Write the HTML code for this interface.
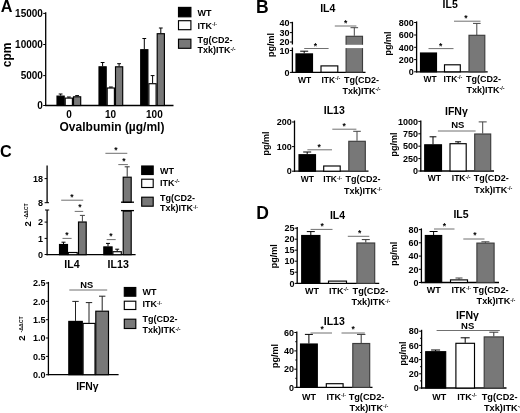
<!DOCTYPE html>
<html><head><meta charset="utf-8"><title>Figure</title>
<style>
html,body{margin:0;padding:0;background:#fff;}
svg{display:block;}
text{font-family:"Liberation Sans",Arial,sans-serif;font-weight:bold;fill:#000;}
</style></head><body>
<svg width="520" height="413" viewBox="0 0 520 413">
<rect width="520" height="413" fill="#fff"/>
<text x="6.6" y="12.3" font-size="16.2" text-anchor="middle">A</text>
<line x1="45.7" y1="12.2" x2="45.7" y2="106.1" stroke="#000" stroke-width="1.3"/>
<line x1="45.1" y1="105.5" x2="173.5" y2="105.5" stroke="#000" stroke-width="1.3"/>
<line x1="43.2" y1="13.4" x2="45.7" y2="13.4" stroke="#000" stroke-width="1"/>
<text x="42.9" y="17.0" font-size="10" text-anchor="end">15000</text>
<line x1="43.2" y1="44.5" x2="45.7" y2="44.5" stroke="#000" stroke-width="1"/>
<text x="42.9" y="48.1" font-size="10" text-anchor="end">10000</text>
<line x1="43.2" y1="75.6" x2="45.7" y2="75.6" stroke="#000" stroke-width="1"/>
<text x="42.9" y="79.2" font-size="10" text-anchor="end">5000</text>
<line x1="43.2" y1="105.5" x2="45.7" y2="105.5" stroke="#000" stroke-width="1"/>
<text x="42.9" y="109.1" font-size="10" text-anchor="end">0</text>
<text transform="translate(10.5,54.8) rotate(-90)" font-size="12" text-anchor="middle">cpm</text>
<line x1="60.6" y1="94.0" x2="60.6" y2="95.6" stroke="#000" stroke-width="1"/>
<line x1="58.7" y1="94.0" x2="62.5" y2="94.0" stroke="#000" stroke-width="1"/>
<rect x="57.0" y="96.1" width="7.2" height="9.4" fill="#000" stroke="#000" stroke-width="1.15"/>
<line x1="68.9" y1="97.0" x2="68.9" y2="97.6" stroke="#000" stroke-width="1"/>
<line x1="67.0" y1="97.0" x2="70.8" y2="97.0" stroke="#000" stroke-width="1"/>
<rect x="65.2" y="98.1" width="7.2" height="7.4" fill="#fff" stroke="#000" stroke-width="1.15"/>
<line x1="77.1" y1="95.6" x2="77.1" y2="96.3" stroke="#000" stroke-width="1"/>
<line x1="75.2" y1="95.6" x2="79.0" y2="95.6" stroke="#000" stroke-width="1"/>
<rect x="73.5" y="96.8" width="7.2" height="8.7" fill="#787878" stroke="#000" stroke-width="1.15"/>
<line x1="102.6" y1="62.5" x2="102.6" y2="66.3" stroke="#000" stroke-width="1"/>
<line x1="100.7" y1="62.5" x2="104.5" y2="62.5" stroke="#000" stroke-width="1"/>
<rect x="99.0" y="66.8" width="7.2" height="38.7" fill="#000" stroke="#000" stroke-width="1.15"/>
<line x1="110.9" y1="87.0" x2="110.9" y2="87.5" stroke="#000" stroke-width="1"/>
<line x1="109.0" y1="87.0" x2="112.8" y2="87.0" stroke="#000" stroke-width="1"/>
<rect x="107.2" y="88.0" width="7.2" height="17.5" fill="#fff" stroke="#000" stroke-width="1.15"/>
<line x1="119.1" y1="63.7" x2="119.1" y2="66.3" stroke="#000" stroke-width="1"/>
<line x1="117.2" y1="63.7" x2="121.0" y2="63.7" stroke="#000" stroke-width="1"/>
<rect x="115.5" y="66.8" width="7.2" height="38.7" fill="#787878" stroke="#000" stroke-width="1.15"/>
<line x1="144.3" y1="38.5" x2="144.3" y2="49.2" stroke="#000" stroke-width="1"/>
<line x1="142.4" y1="38.5" x2="146.2" y2="38.5" stroke="#000" stroke-width="1"/>
<rect x="140.7" y="49.7" width="7.2" height="55.8" fill="#000" stroke="#000" stroke-width="1.15"/>
<line x1="152.6" y1="75.6" x2="152.6" y2="83.2" stroke="#000" stroke-width="1"/>
<line x1="150.7" y1="75.6" x2="154.5" y2="75.6" stroke="#000" stroke-width="1"/>
<rect x="148.9" y="83.7" width="7.2" height="21.8" fill="#fff" stroke="#000" stroke-width="1.15"/>
<line x1="160.8" y1="28.0" x2="160.8" y2="33.2" stroke="#000" stroke-width="1"/>
<line x1="158.9" y1="28.0" x2="162.7" y2="28.0" stroke="#000" stroke-width="1"/>
<rect x="157.2" y="33.7" width="7.2" height="71.8" fill="#787878" stroke="#000" stroke-width="1.15"/>
<text x="69.0" y="118.4" font-size="10" text-anchor="middle">0</text>
<text x="110.5" y="118.4" font-size="10" text-anchor="middle">10</text>
<text x="154.4" y="118.4" font-size="10" text-anchor="middle">100</text>
<text x="112.0" y="130.6" font-size="12" text-anchor="middle">Ovalbumin (µg/ml)</text>
<rect x="178.5" y="7.4" width="12.4" height="9.4" fill="#000" stroke="#000" stroke-width="1.15"/>
<rect x="178.5" y="20.7" width="12.4" height="9.0" fill="#fff" stroke="#000" stroke-width="1.15"/>
<rect x="178.5" y="39.2" width="12.4" height="9.1" fill="#787878" stroke="#000" stroke-width="1.15"/>
<text x="197.5" y="16.2" font-size="9" text-anchor="start">WT</text>
<text x="197.5" y="28.9" font-size="9" text-anchor="start">ITK<tspan font-size="5.4" dy="-2.6">-/-</tspan></text>
<text x="197.5" y="43.2" font-size="9" text-anchor="start">Tg(CD2-</text>
<text x="197.5" y="53.4" font-size="9" text-anchor="start">Txk)ITK<tspan font-size="5.4" dy="-2.6">-/-</tspan></text>
<text x="262.4" y="13.3" font-size="17.5" text-anchor="middle">B</text>
<text x="327.8" y="12.4" font-size="10.5" text-anchor="middle">IL4</text>
<line x1="292.4" y1="21.8" x2="292.4" y2="44.5" stroke="#000" stroke-width="1.3"/>
<line x1="292.4" y1="47.5" x2="292.4" y2="73.0" stroke="#000" stroke-width="1.3"/>
<line x1="291.8" y1="72.4" x2="365.5" y2="72.4" stroke="#000" stroke-width="1.3"/>
<line x1="289.9" y1="22.7" x2="292.4" y2="22.7" stroke="#000" stroke-width="1"/>
<text x="289.4" y="25.9" font-size="9" text-anchor="end">40</text>
<line x1="289.9" y1="32.6" x2="292.4" y2="32.6" stroke="#000" stroke-width="1"/>
<text x="289.4" y="35.8" font-size="9" text-anchor="end">30</text>
<line x1="289.9" y1="42.0" x2="292.4" y2="42.0" stroke="#000" stroke-width="1"/>
<text x="289.4" y="45.2" font-size="9" text-anchor="end">20</text>
<line x1="289.9" y1="50.5" x2="292.4" y2="50.5" stroke="#000" stroke-width="1"/>
<text x="289.4" y="53.7" font-size="9" text-anchor="end">10</text>
<line x1="289.9" y1="72.4" x2="292.4" y2="72.4" stroke="#000" stroke-width="1"/>
<text x="289.4" y="75.6" font-size="9" text-anchor="end">0</text>
<text transform="translate(274.2,45.0) rotate(-90)" font-size="9" text-anchor="middle">pg/ml</text>
<line x1="304.2" y1="51.2" x2="304.2" y2="53.4" stroke="#000" stroke-width="1"/>
<line x1="300.2" y1="51.2" x2="308.2" y2="51.2" stroke="#000" stroke-width="1"/>
<rect x="296.0" y="53.9" width="16.5" height="18.3" fill="#000" stroke="#000" stroke-width="1.15"/>
<rect x="321.0" y="65.9" width="16.8" height="6.3" fill="#fff" stroke="#000" stroke-width="1.15"/>
<line x1="354.3" y1="27.7" x2="354.3" y2="35.8" stroke="#444" stroke-width="1"/>
<line x1="350.5" y1="27.7" x2="358.1" y2="27.7" stroke="#444" stroke-width="1"/>
<rect x="346.1" y="36.3" width="16.4" height="35.9" fill="#787878" stroke="#3c3c3c" stroke-width="1.15"/>
<rect x="344" y="44.8" width="21" height="3.3" fill="#fff"/>
<line x1="304.2" y1="48.5" x2="328.6" y2="48.5" stroke="#707070" stroke-width="1"/>
<text x="315.4" y="48.5" font-size="8.5" text-anchor="middle">*</text>
<line x1="334.8" y1="26.0" x2="356.4" y2="26.0" stroke="#707070" stroke-width="1"/>
<text x="345.6" y="26.1" font-size="8.5" text-anchor="middle">*</text>
<text x="304.7" y="82.9" font-size="8.5" text-anchor="middle">WT</text>
<text x="330.8" y="82.9" font-size="8.5" text-anchor="middle">ITK<tspan font-size="5.4" dy="-2.6">-/-</tspan></text>
<text x="361.5" y="83.0" font-size="9" text-anchor="middle">Tg(CD2-</text>
<text x="361.5" y="93.8" font-size="9" text-anchor="middle">Txk)ITK<tspan font-size="5.4" dy="-2.6">-/-</tspan></text>
<text x="450.2" y="8.4" font-size="10.5" text-anchor="middle">IL5</text>
<line x1="416.6" y1="21.4" x2="416.6" y2="72.4" stroke="#000" stroke-width="1.3"/>
<line x1="416.0" y1="71.8" x2="487.7" y2="71.8" stroke="#000" stroke-width="1.3"/>
<line x1="414.1" y1="22.5" x2="416.6" y2="22.5" stroke="#000" stroke-width="1"/>
<text x="413.8" y="25.7" font-size="9" text-anchor="end">800</text>
<line x1="414.1" y1="35.0" x2="416.6" y2="35.0" stroke="#000" stroke-width="1"/>
<text x="413.8" y="38.2" font-size="9" text-anchor="end">600</text>
<line x1="414.1" y1="47.3" x2="416.6" y2="47.3" stroke="#000" stroke-width="1"/>
<text x="413.8" y="50.5" font-size="9" text-anchor="end">400</text>
<line x1="414.1" y1="59.6" x2="416.6" y2="59.6" stroke="#000" stroke-width="1"/>
<text x="413.8" y="62.8" font-size="9" text-anchor="end">200</text>
<line x1="414.1" y1="71.8" x2="416.6" y2="71.8" stroke="#000" stroke-width="1"/>
<text x="413.8" y="75.0" font-size="9" text-anchor="end">0</text>
<text transform="translate(391.0,43.5) rotate(-90)" font-size="9" text-anchor="middle">pg/ml</text>
<rect x="420.5" y="53.0" width="16.0" height="18.8" fill="#000" stroke="#000" stroke-width="1.15"/>
<rect x="444.5" y="64.8" width="15.8" height="7.0" fill="#fff" stroke="#000" stroke-width="1.15"/>
<line x1="476.8" y1="23.4" x2="476.8" y2="35.0" stroke="#444" stroke-width="1"/>
<line x1="473.0" y1="23.4" x2="480.6" y2="23.4" stroke="#444" stroke-width="1"/>
<rect x="469.0" y="35.3" width="15.8" height="36.5" fill="#787878" stroke="#3c3c3c" stroke-width="1.15"/>
<line x1="428.5" y1="48.6" x2="453.5" y2="48.6" stroke="#707070" stroke-width="1"/>
<text x="440.6" y="49.4" font-size="8.5" text-anchor="middle">*</text>
<line x1="454.0" y1="21.2" x2="480.5" y2="21.2" stroke="#707070" stroke-width="1"/>
<text x="466.0" y="21.1" font-size="8.5" text-anchor="middle">*</text>
<text x="430.0" y="81.5" font-size="8.5" text-anchor="middle">WT</text>
<text x="453.0" y="81.5" font-size="8.5" text-anchor="middle">ITK<tspan font-size="5.4" dy="-2.6">-/-</tspan></text>
<text x="483.5" y="81.6" font-size="9" text-anchor="middle">Tg(CD2-</text>
<text x="485.5" y="92.8" font-size="9" text-anchor="middle">Txk)ITK<tspan font-size="5.4" dy="-2.6">-/-</tspan></text>
<text x="334.3" y="114.1" font-size="10.5" text-anchor="middle">IL13</text>
<line x1="294.5" y1="120.5" x2="294.5" y2="171.8" stroke="#000" stroke-width="1.3"/>
<line x1="293.9" y1="171.2" x2="368.5" y2="171.2" stroke="#000" stroke-width="1.3"/>
<line x1="292.0" y1="122.0" x2="294.5" y2="122.0" stroke="#000" stroke-width="1"/>
<text x="291.7" y="125.2" font-size="9" text-anchor="end">200</text>
<line x1="292.0" y1="146.6" x2="294.5" y2="146.6" stroke="#000" stroke-width="1"/>
<text x="291.7" y="149.8" font-size="9" text-anchor="end">100</text>
<line x1="292.0" y1="171.2" x2="294.5" y2="171.2" stroke="#000" stroke-width="1"/>
<text x="291.7" y="174.4" font-size="9" text-anchor="end">0</text>
<text transform="translate(268.7,143.5) rotate(-90)" font-size="9" text-anchor="middle">pg/ml</text>
<line x1="307.2" y1="152.0" x2="307.2" y2="154.2" stroke="#000" stroke-width="1"/>
<line x1="303.2" y1="152.0" x2="311.2" y2="152.0" stroke="#000" stroke-width="1"/>
<rect x="299.0" y="154.7" width="16.5" height="16.5" fill="#000" stroke="#000" stroke-width="1.15"/>
<rect x="323.7" y="166.0" width="16.5" height="5.2" fill="#fff" stroke="#000" stroke-width="1.15"/>
<line x1="357.0" y1="131.3" x2="357.0" y2="140.8" stroke="#444" stroke-width="1"/>
<line x1="353.2" y1="131.3" x2="360.8" y2="131.3" stroke="#444" stroke-width="1"/>
<rect x="348.8" y="141.3" width="16.5" height="29.9" fill="#787878" stroke="#3c3c3c" stroke-width="1.15"/>
<line x1="307.4" y1="149.8" x2="332.0" y2="149.8" stroke="#707070" stroke-width="1"/>
<text x="319.2" y="150.3" font-size="8.5" text-anchor="middle">*</text>
<line x1="332.3" y1="129.2" x2="356.4" y2="129.2" stroke="#707070" stroke-width="1"/>
<text x="344.2" y="129.4" font-size="8.5" text-anchor="middle">*</text>
<text x="307.4" y="182.1" font-size="8.5" text-anchor="middle">WT</text>
<text x="332.7" y="182.1" font-size="8.5" text-anchor="middle">ITK<tspan font-size="5.4" dy="-2.6">-/-</tspan></text>
<text x="363.0" y="182.2" font-size="9" text-anchor="middle">Tg(CD2-</text>
<text x="363.0" y="193.8" font-size="9" text-anchor="middle">Txk)ITK<tspan font-size="5.4" dy="-2.6">-/-</tspan></text>
<text x="456.4" y="114.7" font-size="10.5" text-anchor="middle">IFNγ</text>
<line x1="420.8" y1="120.5" x2="420.8" y2="171.6" stroke="#000" stroke-width="1.3"/>
<line x1="420.2" y1="171.0" x2="494.0" y2="171.0" stroke="#000" stroke-width="1.3"/>
<line x1="418.3" y1="121.4" x2="420.8" y2="121.4" stroke="#000" stroke-width="1"/>
<text x="418.0" y="124.6" font-size="9" text-anchor="end">1000</text>
<line x1="418.3" y1="133.8" x2="420.8" y2="133.8" stroke="#000" stroke-width="1"/>
<text x="418.0" y="137.0" font-size="9" text-anchor="end">750</text>
<line x1="418.3" y1="146.2" x2="420.8" y2="146.2" stroke="#000" stroke-width="1"/>
<text x="418.0" y="149.4" font-size="9" text-anchor="end">500</text>
<line x1="418.3" y1="158.6" x2="420.8" y2="158.6" stroke="#000" stroke-width="1"/>
<text x="418.0" y="161.8" font-size="9" text-anchor="end">250</text>
<line x1="418.3" y1="171.0" x2="420.8" y2="171.0" stroke="#000" stroke-width="1"/>
<text x="418.0" y="174.2" font-size="9" text-anchor="end">0</text>
<text transform="translate(397.0,144.5) rotate(-90)" font-size="9" text-anchor="middle">pg/ml</text>
<line x1="433.0" y1="136.8" x2="433.0" y2="144.3" stroke="#000" stroke-width="1"/>
<line x1="429.6" y1="136.8" x2="436.4" y2="136.8" stroke="#000" stroke-width="1"/>
<rect x="424.7" y="144.8" width="16.8" height="26.2" fill="#000" stroke="#000" stroke-width="1.15"/>
<line x1="458.1" y1="141.8" x2="458.1" y2="143.2" stroke="#000" stroke-width="1"/>
<line x1="455.1" y1="141.8" x2="461.1" y2="141.8" stroke="#000" stroke-width="1"/>
<rect x="450.0" y="143.7" width="16.2" height="27.3" fill="#fff" stroke="#000" stroke-width="1.15"/>
<line x1="482.7" y1="121.9" x2="482.7" y2="133.5" stroke="#444" stroke-width="1"/>
<line x1="478.7" y1="121.9" x2="486.7" y2="121.9" stroke="#444" stroke-width="1"/>
<rect x="474.7" y="134.0" width="16.0" height="37.0" fill="#787878" stroke="#3c3c3c" stroke-width="1.15"/>
<line x1="437.9" y1="131.0" x2="475.6" y2="131.0" stroke="#707070" stroke-width="1"/>
<text x="457.8" y="128.2" font-size="9.5" text-anchor="middle">NS</text>
<text x="434.4" y="181.1" font-size="8.5" text-anchor="middle">WT</text>
<text x="461.2" y="181.1" font-size="8.5" text-anchor="middle">ITK<tspan font-size="5.4" dy="-2.6">-/-</tspan></text>
<text x="491.2" y="181.2" font-size="9" text-anchor="middle">Tg(CD2-</text>
<text x="493.3" y="192.8" font-size="9" text-anchor="middle">Txk)ITK<tspan font-size="5.4" dy="-2.6">-/-</tspan></text>
<text x="5.8" y="157" font-size="16.2" text-anchor="middle">C</text>
<line x1="47.1" y1="165.4" x2="47.1" y2="203.0" stroke="#000" stroke-width="1.3"/>
<line x1="44.6" y1="178.6" x2="47.1" y2="178.6" stroke="#000" stroke-width="1"/>
<line x1="44.6" y1="202.7" x2="49.0" y2="202.7" stroke="#000" stroke-width="1"/>
<text x="43.0" y="181.8" font-size="9" text-anchor="end">18</text>
<text x="43.0" y="205.9" font-size="9" text-anchor="end">8</text>
<line x1="47.1" y1="210.0" x2="47.1" y2="255.3" stroke="#000" stroke-width="1.3"/>
<line x1="45.0" y1="210.0" x2="49.2" y2="210.0" stroke="#000" stroke-width="1"/>
<line x1="46.5" y1="254.7" x2="135.6" y2="254.7" stroke="#000" stroke-width="1.3"/>
<line x1="44.6" y1="222.1" x2="47.1" y2="222.1" stroke="#000" stroke-width="1"/>
<text x="43.0" y="225.3" font-size="9" text-anchor="end">2</text>
<line x1="44.6" y1="238.4" x2="47.1" y2="238.4" stroke="#000" stroke-width="1"/>
<text x="43.0" y="241.6" font-size="9" text-anchor="end">1</text>
<line x1="44.6" y1="254.5" x2="47.1" y2="254.5" stroke="#000" stroke-width="1"/>
<text x="43.0" y="257.7" font-size="9" text-anchor="end">0</text>
<text transform="translate(30.7,223.9) rotate(-90)" font-size="9.5" text-anchor="middle">2</text>
<text transform="translate(28.1,211.3) rotate(-90)" font-size="5.2" text-anchor="middle">-ΔΔCT</text>
<line x1="63.5" y1="242.2" x2="63.5" y2="244.0" stroke="#000" stroke-width="1"/>
<line x1="61.5" y1="242.2" x2="65.5" y2="242.2" stroke="#000" stroke-width="1"/>
<rect x="59.5" y="244.5" width="8.0" height="10.2" fill="#000" stroke="#000" stroke-width="1.15"/>
<rect x="68.3" y="252.5" width="8.9" height="2.2" fill="#fff" stroke="#000" stroke-width="1.15"/>
<line x1="82.4" y1="215.4" x2="82.4" y2="221.5" stroke="#444" stroke-width="1"/>
<line x1="79.9" y1="215.4" x2="84.9" y2="215.4" stroke="#444" stroke-width="1"/>
<rect x="78.5" y="222.0" width="7.7" height="32.7" fill="#787878" stroke="#000" stroke-width="1.15"/>
<line x1="62.5" y1="238.4" x2="71.6" y2="238.4" stroke="#707070" stroke-width="1"/>
<text x="67.0" y="237.7" font-size="8.5" text-anchor="middle">*</text>
<line x1="74.7" y1="211.4" x2="83.2" y2="211.4" stroke="#707070" stroke-width="1"/>
<text x="79.8" y="210.4" font-size="8.5" text-anchor="middle">*</text>
<line x1="61.2" y1="200.2" x2="83.2" y2="200.2" stroke="#707070" stroke-width="1"/>
<text x="72.0" y="199.5" font-size="8.5" text-anchor="middle">*</text>
<line x1="108.0" y1="243.4" x2="108.0" y2="246.4" stroke="#000" stroke-width="1"/>
<line x1="106.0" y1="243.4" x2="110.0" y2="243.4" stroke="#000" stroke-width="1"/>
<rect x="103.8" y="246.9" width="8.3" height="7.8" fill="#000" stroke="#000" stroke-width="1.15"/>
<line x1="117.2" y1="249.2" x2="117.2" y2="251.2" stroke="#000" stroke-width="1"/>
<line x1="115.2" y1="249.2" x2="119.2" y2="249.2" stroke="#000" stroke-width="1"/>
<rect x="112.9" y="251.7" width="8.4" height="3.0" fill="#fff" stroke="#000" stroke-width="1.15"/>
<rect x="123.2" y="211.1" width="8.0" height="43.6" fill="#787878" stroke="#000" stroke-width="1.15"/>
<line x1="121.0" y1="210.6" x2="134.0" y2="210.6" stroke="#000" stroke-width="1.3"/>
<line x1="127.2" y1="166.8" x2="127.2" y2="176.7" stroke="#333" stroke-width="1"/>
<line x1="124.7" y1="166.8" x2="129.7" y2="166.8" stroke="#333" stroke-width="1"/>
<rect x="123.2" y="177.2" width="8.0" height="25.2" fill="#787878" stroke="#000" stroke-width="1.15"/>
<line x1="121.0" y1="202.2" x2="134.0" y2="202.2" stroke="#000" stroke-width="1.3"/>
<line x1="106.7" y1="239.6" x2="115.7" y2="239.6" stroke="#707070" stroke-width="1"/>
<text x="111.0" y="238.9" font-size="8.5" text-anchor="middle">*</text>
<line x1="118.3" y1="164.6" x2="127.9" y2="164.6" stroke="#707070" stroke-width="1"/>
<text x="124.0" y="163.7" font-size="8.5" text-anchor="middle">*</text>
<line x1="105.4" y1="153.3" x2="127.3" y2="153.3" stroke="#707070" stroke-width="1"/>
<text x="116.0" y="152.8" font-size="8.5" text-anchor="middle">*</text>
<text x="71.9" y="268.4" font-size="10.6" text-anchor="middle">IL4</text>
<text x="118.2" y="268.4" font-size="10.6" text-anchor="middle">IL13</text>
<rect x="141.7" y="166.0" width="11.5" height="8.5" fill="#000" stroke="#000" stroke-width="1.15"/>
<rect x="141.7" y="179.2" width="11.5" height="8.3" fill="#fff" stroke="#000" stroke-width="1.15"/>
<rect x="141.7" y="197.2" width="11.5" height="9.0" fill="#787878" stroke="#000" stroke-width="1.15"/>
<text x="160.0" y="173.7" font-size="9" text-anchor="start">WT</text>
<text x="160.0" y="185.7" font-size="9" text-anchor="start">ITK<tspan font-size="5.4" dy="-2.6">-/-</tspan></text>
<text x="160.0" y="200.7" font-size="9" text-anchor="start">Tg(CD2-</text>
<text x="160.0" y="211.2" font-size="9" text-anchor="start">Txk)ITK<tspan font-size="5.4" dy="-2.6">-/-</tspan></text>
<line x1="48.4" y1="281.9" x2="48.4" y2="375.3" stroke="#000" stroke-width="1.3"/>
<line x1="47.8" y1="374.7" x2="118.6" y2="374.7" stroke="#000" stroke-width="1.3"/>
<line x1="45.9" y1="283.0" x2="48.4" y2="283.0" stroke="#000" stroke-width="1"/>
<text x="45.6" y="286.2" font-size="9" text-anchor="end">2.5</text>
<line x1="45.9" y1="301.3" x2="48.4" y2="301.3" stroke="#000" stroke-width="1"/>
<text x="45.6" y="304.5" font-size="9" text-anchor="end">2.0</text>
<line x1="45.9" y1="319.7" x2="48.4" y2="319.7" stroke="#000" stroke-width="1"/>
<text x="45.6" y="322.9" font-size="9" text-anchor="end">1.5</text>
<line x1="45.9" y1="338.0" x2="48.4" y2="338.0" stroke="#000" stroke-width="1"/>
<text x="45.6" y="341.2" font-size="9" text-anchor="end">1.0</text>
<line x1="45.9" y1="356.4" x2="48.4" y2="356.4" stroke="#000" stroke-width="1"/>
<text x="45.6" y="359.6" font-size="9" text-anchor="end">0.5</text>
<line x1="45.9" y1="374.7" x2="48.4" y2="374.7" stroke="#000" stroke-width="1"/>
<text x="45.6" y="377.9" font-size="9" text-anchor="end">0.0</text>
<text transform="translate(25.2,338) rotate(-90)" font-size="9.5" text-anchor="middle">2</text>
<text transform="translate(23.4,324.5) rotate(-90)" font-size="5.2" text-anchor="middle">-ΔΔCT</text>
<line x1="75.5" y1="301.4" x2="75.5" y2="320.9" stroke="#222" stroke-width="1"/>
<line x1="72.3" y1="301.4" x2="78.7" y2="301.4" stroke="#222" stroke-width="1"/>
<rect x="68.8" y="321.4" width="13.5" height="53.3" fill="#000" stroke="#000" stroke-width="1.15"/>
<line x1="89.0" y1="302.6" x2="89.0" y2="322.9" stroke="#222" stroke-width="1"/>
<line x1="85.8" y1="302.6" x2="92.2" y2="302.6" stroke="#222" stroke-width="1"/>
<rect x="83.1" y="323.4" width="11.9" height="51.3" fill="#fff" stroke="#000" stroke-width="1.15"/>
<line x1="102.2" y1="296.2" x2="102.2" y2="310.7" stroke="#222" stroke-width="1"/>
<line x1="99.0" y1="296.2" x2="105.4" y2="296.2" stroke="#222" stroke-width="1"/>
<rect x="95.8" y="311.2" width="12.7" height="63.5" fill="#787878" stroke="#000" stroke-width="1.15"/>
<line x1="69.3" y1="290.0" x2="107.2" y2="290.0" stroke="#707070" stroke-width="1"/>
<text x="86.8" y="287.6" font-size="9.3" text-anchor="middle">NS</text>
<text x="87.4" y="390.0" font-size="10.4" text-anchor="middle">IFNγ</text>
<rect x="124.3" y="287.5" width="11.5" height="8.7" fill="#000" stroke="#000" stroke-width="1.15"/>
<rect x="124.3" y="301.2" width="11.5" height="8.3" fill="#fff" stroke="#000" stroke-width="1.15"/>
<rect x="124.3" y="319.2" width="11.5" height="9.3" fill="#787878" stroke="#000" stroke-width="1.15"/>
<text x="142.5" y="295.2" font-size="9" text-anchor="start">WT</text>
<text x="142.5" y="307.4" font-size="9" text-anchor="start">ITK<tspan font-size="5.4" dy="-2.6">-/-</tspan></text>
<text x="142.5" y="322.4" font-size="9" text-anchor="start">Tg(CD2-</text>
<text x="142.5" y="333.2" font-size="9" text-anchor="start">Txk)ITK<tspan font-size="5.4" dy="-2.6">-/-</tspan></text>
<text x="262.5" y="219.3" font-size="17.5" text-anchor="middle">D</text>
<text x="337.5" y="218.8" font-size="10.5" text-anchor="middle">IL4</text>
<line x1="297.2" y1="227.0" x2="297.2" y2="284.0" stroke="#000" stroke-width="1.3"/>
<line x1="296.6" y1="283.4" x2="379.2" y2="283.4" stroke="#000" stroke-width="1.3"/>
<line x1="294.7" y1="228.2" x2="297.2" y2="228.2" stroke="#000" stroke-width="1"/>
<text x="294.4" y="231.4" font-size="9" text-anchor="end">25</text>
<line x1="294.7" y1="239.2" x2="297.2" y2="239.2" stroke="#000" stroke-width="1"/>
<text x="294.4" y="242.4" font-size="9" text-anchor="end">20</text>
<line x1="294.7" y1="250.2" x2="297.2" y2="250.2" stroke="#000" stroke-width="1"/>
<text x="294.4" y="253.4" font-size="9" text-anchor="end">15</text>
<line x1="294.7" y1="261.2" x2="297.2" y2="261.2" stroke="#000" stroke-width="1"/>
<text x="294.4" y="264.4" font-size="9" text-anchor="end">10</text>
<line x1="294.7" y1="272.2" x2="297.2" y2="272.2" stroke="#000" stroke-width="1"/>
<text x="294.4" y="275.4" font-size="9" text-anchor="end">5</text>
<line x1="294.7" y1="283.4" x2="297.2" y2="283.4" stroke="#000" stroke-width="1"/>
<text x="294.4" y="286.6" font-size="9" text-anchor="end">0</text>
<text transform="translate(277.4,256.2) rotate(-90)" font-size="9" text-anchor="middle">pg/ml</text>
<line x1="310.8" y1="231.6" x2="310.8" y2="235.0" stroke="#000" stroke-width="1"/>
<line x1="306.8" y1="231.6" x2="314.8" y2="231.6" stroke="#000" stroke-width="1"/>
<rect x="301.7" y="235.5" width="18.2" height="47.9" fill="#000" stroke="#000" stroke-width="1.15"/>
<rect x="328.5" y="281.1" width="18.0" height="2.3" fill="#fff" stroke="#000" stroke-width="1.15"/>
<line x1="365.8" y1="239.6" x2="365.8" y2="242.5" stroke="#333" stroke-width="1"/>
<line x1="361.8" y1="239.6" x2="369.8" y2="239.6" stroke="#333" stroke-width="1"/>
<rect x="356.9" y="243.0" width="17.8" height="40.4" fill="#787878" stroke="#3c3c3c" stroke-width="1.15"/>
<line x1="310.6" y1="229.4" x2="332.5" y2="229.4" stroke="#707070" stroke-width="1"/>
<text x="322.2" y="228.6" font-size="8.5" text-anchor="middle">*</text>
<line x1="347.8" y1="236.3" x2="369.3" y2="236.3" stroke="#707070" stroke-width="1"/>
<text x="359.6" y="235.7" font-size="8.5" text-anchor="middle">*</text>
<text x="312.0" y="293.5" font-size="9" text-anchor="middle">WT</text>
<text x="338.8" y="293.5" font-size="9" text-anchor="middle">ITK<tspan font-size="5.4" dy="-2.6">-/-</tspan></text>
<text x="370.4" y="293.6" font-size="9.2" text-anchor="middle">Tg(CD2-</text>
<text x="370.8" y="305.2" font-size="9.2" text-anchor="middle">Txk)ITK<tspan font-size="5.4" dy="-2.6">-/-</tspan></text>
<text x="461.0" y="217.8" font-size="10.5" text-anchor="middle">IL5</text>
<line x1="421.4" y1="228.4" x2="421.4" y2="283.1" stroke="#000" stroke-width="1.3"/>
<line x1="420.8" y1="282.5" x2="499.0" y2="282.5" stroke="#000" stroke-width="1.3"/>
<line x1="418.9" y1="229.6" x2="421.4" y2="229.6" stroke="#000" stroke-width="1"/>
<text x="418.6" y="232.8" font-size="9" text-anchor="end">80</text>
<line x1="418.9" y1="242.8" x2="421.4" y2="242.8" stroke="#000" stroke-width="1"/>
<text x="418.6" y="246.0" font-size="9" text-anchor="end">60</text>
<line x1="418.9" y1="256.1" x2="421.4" y2="256.1" stroke="#000" stroke-width="1"/>
<text x="418.6" y="259.3" font-size="9" text-anchor="end">40</text>
<line x1="418.9" y1="269.3" x2="421.4" y2="269.3" stroke="#000" stroke-width="1"/>
<text x="418.6" y="272.5" font-size="9" text-anchor="end">20</text>
<line x1="418.9" y1="282.5" x2="421.4" y2="282.5" stroke="#000" stroke-width="1"/>
<text x="418.6" y="285.7" font-size="9" text-anchor="end">0</text>
<text transform="translate(397.2,253.8) rotate(-90)" font-size="9" text-anchor="middle">pg/ml</text>
<line x1="433.6" y1="231.5" x2="433.6" y2="235.0" stroke="#000" stroke-width="1"/>
<line x1="429.6" y1="231.5" x2="437.6" y2="231.5" stroke="#000" stroke-width="1"/>
<rect x="425.3" y="235.5" width="16.4" height="47.0" fill="#000" stroke="#000" stroke-width="1.15"/>
<line x1="459.0" y1="278.0" x2="459.0" y2="279.4" stroke="#444" stroke-width="1"/>
<line x1="455.5" y1="278.0" x2="462.5" y2="278.0" stroke="#444" stroke-width="1"/>
<rect x="450.5" y="279.9" width="17.0" height="2.6" fill="#fff" stroke="#000" stroke-width="1.15"/>
<line x1="485.4" y1="241.8" x2="485.4" y2="242.8" stroke="#444" stroke-width="1"/>
<line x1="481.4" y1="241.8" x2="489.4" y2="241.8" stroke="#444" stroke-width="1"/>
<rect x="476.9" y="243.1" width="17.2" height="39.4" fill="#787878" stroke="#3c3c3c" stroke-width="1.15"/>
<line x1="434.0" y1="229.0" x2="454.5" y2="229.0" stroke="#707070" stroke-width="1"/>
<text x="444.4" y="228.5" font-size="8.5" text-anchor="middle">*</text>
<line x1="463.3" y1="239.0" x2="484.5" y2="239.0" stroke="#707070" stroke-width="1"/>
<text x="474.8" y="238.4" font-size="8.5" text-anchor="middle">*</text>
<text x="433.8" y="292.8" font-size="9" text-anchor="middle">WT</text>
<text x="461.2" y="292.8" font-size="9" text-anchor="middle">ITK<tspan font-size="5.4" dy="-2.6">-/-</tspan></text>
<text x="490.8" y="292.9" font-size="9.2" text-anchor="middle">Tg(CD2-</text>
<text x="496.0" y="304.2" font-size="9.2" text-anchor="middle">Txk)ITK<tspan font-size="5.4" dy="-2.6">-/-</tspan></text>
<text x="334.3" y="325.1" font-size="10.5" text-anchor="middle">IL13</text>
<line x1="296.8" y1="331.4" x2="296.8" y2="388.0" stroke="#000" stroke-width="1.3"/>
<line x1="296.2" y1="387.4" x2="372.5" y2="387.4" stroke="#000" stroke-width="1.3"/>
<line x1="295.2" y1="341.7" x2="296.8" y2="341.7" stroke="#000" stroke-width="0.9"/>
<line x1="295.2" y1="360.0" x2="296.8" y2="360.0" stroke="#000" stroke-width="0.9"/>
<line x1="295.2" y1="378.3" x2="296.8" y2="378.3" stroke="#000" stroke-width="0.9"/>
<line x1="294.3" y1="332.5" x2="296.8" y2="332.5" stroke="#000" stroke-width="1"/>
<text x="294.0" y="335.7" font-size="9" text-anchor="end">60</text>
<line x1="294.3" y1="350.9" x2="296.8" y2="350.9" stroke="#000" stroke-width="1"/>
<text x="294.0" y="354.1" font-size="9" text-anchor="end">40</text>
<line x1="294.3" y1="369.2" x2="296.8" y2="369.2" stroke="#000" stroke-width="1"/>
<text x="294.0" y="372.4" font-size="9" text-anchor="end">20</text>
<line x1="294.3" y1="387.4" x2="296.8" y2="387.4" stroke="#000" stroke-width="1"/>
<text x="294.0" y="390.6" font-size="9" text-anchor="end">0</text>
<text transform="translate(277.6,356.0) rotate(-90)" font-size="9" text-anchor="middle">pg/ml</text>
<line x1="308.9" y1="334.4" x2="308.9" y2="343.5" stroke="#000" stroke-width="1"/>
<line x1="304.9" y1="334.4" x2="312.9" y2="334.4" stroke="#000" stroke-width="1"/>
<rect x="300.5" y="344.0" width="16.8" height="43.4" fill="#000" stroke="#000" stroke-width="1.15"/>
<rect x="326.3" y="383.7" width="16.8" height="3.7" fill="#fff" stroke="#000" stroke-width="1.15"/>
<line x1="361.2" y1="334.4" x2="361.2" y2="343.0" stroke="#333" stroke-width="1"/>
<line x1="357.0" y1="334.4" x2="365.4" y2="334.4" stroke="#333" stroke-width="1"/>
<rect x="352.8" y="343.5" width="16.9" height="43.9" fill="#787878" stroke="#3c3c3c" stroke-width="1.15"/>
<line x1="310.5" y1="333.0" x2="332.0" y2="333.0" stroke="#707070" stroke-width="1"/>
<text x="322.2" y="331.9" font-size="8.5" text-anchor="middle">*</text>
<line x1="341.5" y1="333.0" x2="364.8" y2="333.0" stroke="#707070" stroke-width="1"/>
<text x="353.1" y="331.9" font-size="8.5" text-anchor="middle">*</text>
<text x="308.9" y="399.5" font-size="9" text-anchor="middle">WT</text>
<text x="336.2" y="399.5" font-size="9" text-anchor="middle">ITK<tspan font-size="5.4" dy="-2.6">-/-</tspan></text>
<text x="366.5" y="399.6" font-size="9.2" text-anchor="middle">Tg(CD2-</text>
<text x="368.8" y="410.8" font-size="9.2" text-anchor="middle">Txk)ITK<tspan font-size="5.4" dy="-2.6">-/-</tspan></text>
<text x="467.5" y="319.4" font-size="10.5" text-anchor="middle">IFNγ</text>
<line x1="421.6" y1="329.8" x2="421.6" y2="388.6" stroke="#000" stroke-width="1.3"/>
<line x1="421.0" y1="388.0" x2="506.5" y2="388.0" stroke="#000" stroke-width="1.3"/>
<line x1="420.0" y1="338.3" x2="421.6" y2="338.3" stroke="#000" stroke-width="0.9"/>
<line x1="420.0" y1="352.5" x2="421.6" y2="352.5" stroke="#000" stroke-width="0.9"/>
<line x1="420.0" y1="366.7" x2="421.6" y2="366.7" stroke="#000" stroke-width="0.9"/>
<line x1="420.0" y1="380.9" x2="421.6" y2="380.9" stroke="#000" stroke-width="0.9"/>
<line x1="419.1" y1="331.2" x2="421.6" y2="331.2" stroke="#000" stroke-width="1"/>
<text x="418.8" y="334.4" font-size="9" text-anchor="end">80</text>
<line x1="419.1" y1="345.4" x2="421.6" y2="345.4" stroke="#000" stroke-width="1"/>
<text x="418.8" y="348.6" font-size="9" text-anchor="end">60</text>
<line x1="419.1" y1="359.6" x2="421.6" y2="359.6" stroke="#000" stroke-width="1"/>
<text x="418.8" y="362.8" font-size="9" text-anchor="end">40</text>
<line x1="419.1" y1="373.8" x2="421.6" y2="373.8" stroke="#000" stroke-width="1"/>
<text x="418.8" y="377.0" font-size="9" text-anchor="end">20</text>
<line x1="419.1" y1="388.0" x2="421.6" y2="388.0" stroke="#000" stroke-width="1"/>
<text x="418.8" y="391.2" font-size="9" text-anchor="end">0</text>
<text transform="translate(406.1,353.4) rotate(-90)" font-size="9" text-anchor="middle">pg/ml</text>
<line x1="435.6" y1="350.0" x2="435.6" y2="351.2" stroke="#000" stroke-width="1"/>
<line x1="431.1" y1="350.0" x2="440.1" y2="350.0" stroke="#000" stroke-width="1"/>
<rect x="425.7" y="351.7" width="20.0" height="36.3" fill="#000" stroke="#000" stroke-width="1.15"/>
<line x1="465.2" y1="337.8" x2="465.2" y2="342.8" stroke="#000" stroke-width="1"/>
<line x1="460.7" y1="337.8" x2="469.7" y2="337.8" stroke="#000" stroke-width="1"/>
<rect x="455.9" y="343.3" width="18.6" height="44.7" fill="#fff" stroke="#000" stroke-width="1.15"/>
<line x1="493.8" y1="332.2" x2="493.8" y2="336.4" stroke="#333" stroke-width="1"/>
<line x1="489.3" y1="332.2" x2="498.3" y2="332.2" stroke="#333" stroke-width="1"/>
<rect x="484.2" y="336.9" width="19.2" height="51.1" fill="#787878" stroke="#3c3c3c" stroke-width="1.15"/>
<line x1="436.6" y1="330.5" x2="499.8" y2="330.5" stroke="#707070" stroke-width="1"/>
<text x="467.7" y="329.0" font-size="9.5" text-anchor="middle">NS</text>
<text x="439.2" y="399.5" font-size="9" text-anchor="middle">WT</text>
<text x="467.0" y="399.5" font-size="9" text-anchor="middle">ITK<tspan font-size="5.4" dy="-2.6">-/-</tspan></text>
<text x="499.6" y="399.6" font-size="9.2" text-anchor="middle">Tg(CD2-</text>
<text x="503.4" y="410.9" font-size="9.2" text-anchor="middle">Txk)ITK<tspan font-size="5.4" dy="-2.6">-/-</tspan></text>
</svg>
</body></html>
